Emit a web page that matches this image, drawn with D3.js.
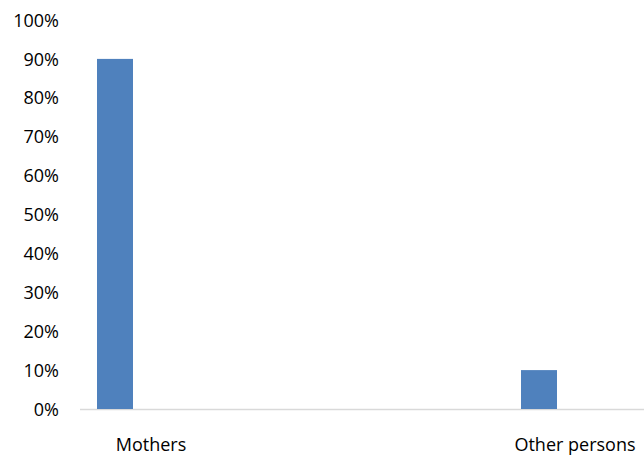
<!DOCTYPE html>
<html>
<head>
<meta charset="utf-8">
<script src="https://cdn.jsdelivr.net/npm/d3@7"></script>
<style>
	body { margin: 0; background: #fff; }
	text { font-family: "Open Sans", sans-serif; font-size: 18px; fill: #000; }
</style>
</head>
<body>
<div id="chart"></div>
<script>
var categories = ["Mothers", "Other persons"];
var values = [0.90, 0.10];
var yTicks = [0, 0.1, 0.2, 0.3, 0.4, 0.5, 0.6, 0.7, 0.8, 0.9, 1.0];

var width = 644, height = 456;
var barWidth = 36;

var svg = d3.select("#chart").append("svg")
	.attr("width", width)
	.attr("height", height);

// category bands are wider than the visible plot (chart is cropped on both sides)
var x = d3.scaleBand()
	.domain(categories)
	.range([-61, 787])
	.padding(0);

var y = d3.scaleLinear()
	.domain([0, 1])
	.range([409, 20]);

// y tick labels, no axis line
var yAxis = d3.axisLeft(y)
	.tickValues(yTicks)
	.tickFormat(d3.format(".0%"))
	.tickSize(0)
	.tickPadding(0);

svg.append("g")
	.attr("transform", "translate(59,0)")
	.call(yAxis)
	.call(function(g){ g.select(".domain").remove(); })
	.selectAll("text")
		.attr("dy", "0.34em");

// baseline
svg.append("line")
	.attr("x1", 80)
	.attr("x2", width)
	.attr("y1", y(0) + 0.5)
	.attr("y2", y(0) + 0.5)
	.attr("stroke", "#d9d9d9")
	.attr("stroke-width", 1.5);

// bars: first slot of a three-slot cluster
svg.append("g")
	.selectAll("rect")
	.data(categories)
	.enter().append("rect")
		.attr("x", function(d){ return x(d) + x.bandwidth() / 2 - 1.5 * barWidth; })
		.attr("width", barWidth)
		.attr("y", function(d, i){ return y(values[i]); })
		.attr("height", function(d, i){ return y(0) - y(values[i]); })
		.attr("fill", "#4f81bd");

// category labels
svg.append("g")
	.selectAll("text")
	.data(categories)
	.enter().append("text")
		.attr("x", function(d){ return x(d) + x.bandwidth() / 2; })
		.attr("y", 451)
		.attr("text-anchor", "middle")
		.text(function(d){ return d; });
</script>
</body>
</html>
